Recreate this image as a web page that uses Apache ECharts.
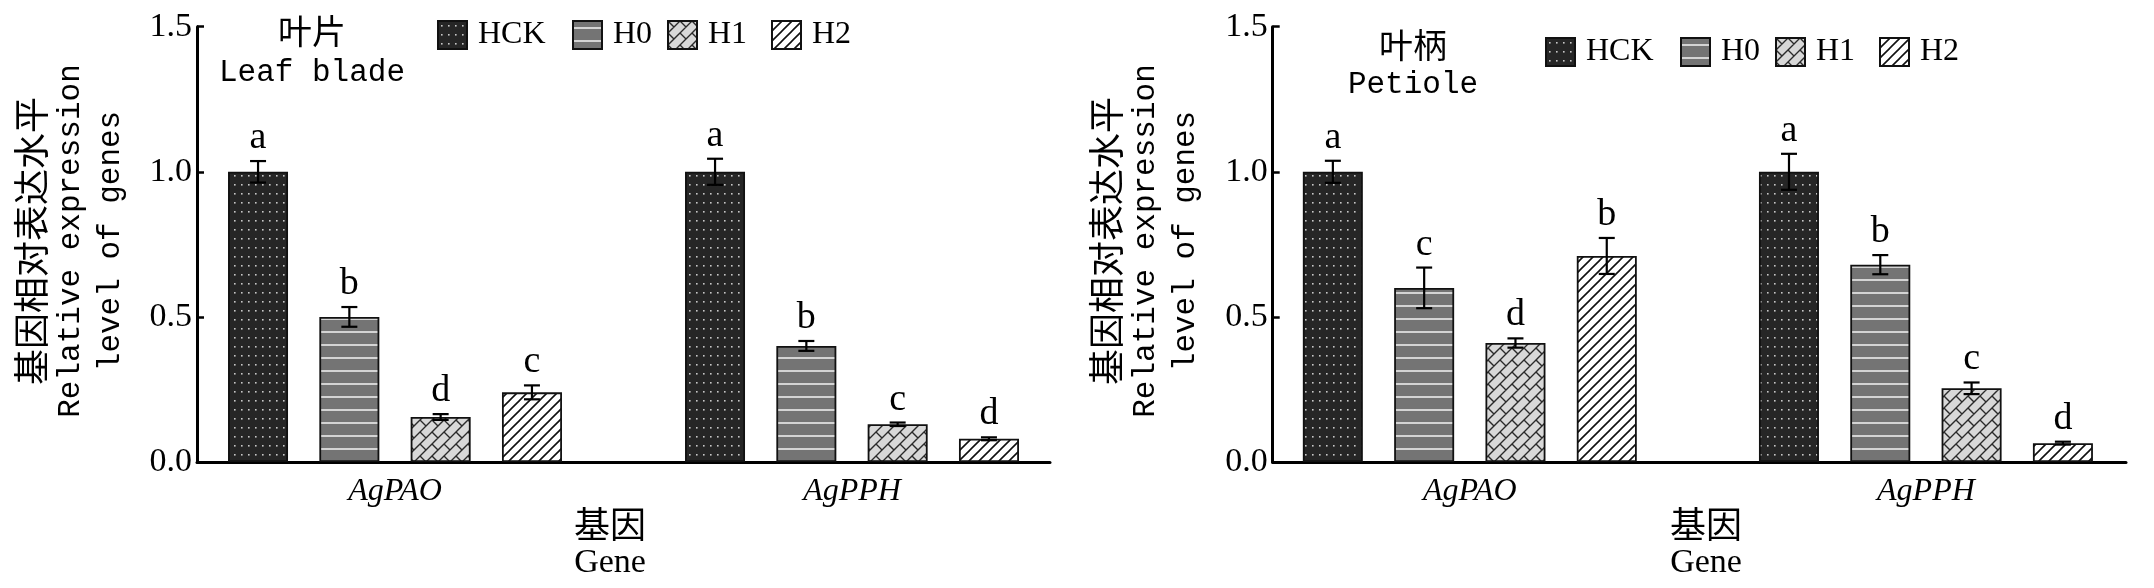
<!DOCTYPE html>
<html>
<head>
<meta charset="utf-8">
<script src="https://cdn.jsdelivr.net/npm/echarts@6/dist/echarts.min.js"></script>
<style>
html,body{margin:0;padding:0;background:#fff;}
#chart{width:2154px;height:588px;}
</style>
</head>
<body>
<div id="chart"></div>
<script>
// ---------------- data ----------------
const categories = ['AgPAO', 'AgPPH'];
const treatments = ['HCK', 'H0', 'H1', 'H2'];
const yTicks = [0, 0.5, 1.0, 1.5];

// Leaf blade (叶片)
const leafHCK = [1.00, 1.00];
const leafH0  = [0.50, 0.40];
const leafH1  = [0.155, 0.13];
const leafH2  = [0.24, 0.08];
const leafErrHCK = [0.037, 0.045];
const leafErrH0  = [0.034, 0.017];
const leafErrH1  = [0.010, 0.006];
const leafErrH2  = [0.024, 0.005];
const leafLetHCK = ['a', 'a'];
const leafLetH0  = ['b', 'b'];
const leafLetH1  = ['d', 'c'];
const leafLetH2  = ['c', 'd'];

// Petiole (叶柄)
const petHCK = [1.00, 1.00];
const petH0  = [0.60, 0.68];
const petH1  = [0.41, 0.254];
const petH2  = [0.71, 0.065];
const petErrHCK = [0.038, 0.062];
const petErrH0  = [0.070, 0.033];
const petErrH1  = [0.016, 0.020];
const petErrH2  = [0.062, 0.005];
const petLetHCK = ['a', 'a'];
const petLetH0  = ['c', 'b'];
const petLetH1  = ['d', 'c'];
const petLetH2  = ['b', 'd'];

// ---------------- styling ----------------
const MONO = '"Liberation Mono", monospace';
const SERIF = '"Liberation Serif", serif';
const CJK = '"Noto Sans CJK SC", sans-serif';
const BAR_W = 60, BAR_GAP = 31.3;

function makeTile(w, h, draw) {
  const c = document.createElement('canvas');
  c.width = w; c.height = h;
  const ctx = c.getContext('2d');
  draw(ctx, w, h);
  return c;
}
const patHCK = makeTile(7, 9, (ctx, w, h) => {
  ctx.fillStyle = '#262626'; ctx.fillRect(0, 0, w, h);
  ctx.fillStyle = '#c8c8c8'; ctx.fillRect(3, 4, 1.6, 1.6);
});
const patH0 = makeTile(4, 13, (ctx, w, h) => {
  ctx.fillStyle = '#747474'; ctx.fillRect(0, 0, w, h);
  ctx.fillStyle = '#d4d4d4'; ctx.fillRect(0, 6, w, 2);
});
const patH1 = makeTile(24, 24, (ctx, w, h) => {
  ctx.fillStyle = '#d8d8d8'; ctx.fillRect(0, 0, w, h);
  ctx.strokeStyle = '#2a2a2a'; ctx.lineWidth = 1.4;
  const P = 12, L = 24;
  ctx.beginPath();
  for (let s = -48; s <= 96; s += P) { ctx.moveTo(s + 48, -48); ctx.lineTo(s - 48, 48); }
  for (let m = -6; m <= 10; m++) {
    const shift = (Math.abs(m) % 2) * (L / 2);
    for (let u = -72 + shift; u <= 72; u += L) {
      const s0 = m * P, s1 = m * P + P;
      ctx.moveTo((u + s0) / 2, (s0 - u) / 2);
      ctx.lineTo((u + s1) / 2, (s1 - u) / 2);
    }
  }
  ctx.stroke();
});
const patH2 = makeTile(10, 10, (ctx, w, h) => {
  ctx.fillStyle = '#ffffff'; ctx.fillRect(0, 0, w, h);
  ctx.strokeStyle = '#111'; ctx.lineWidth = 1.6;
  ctx.beginPath();
  for (let s = -10; s <= 30; s += 10) { ctx.moveTo(s + 20, -20); ctx.lineTo(s - 20, 20); }
  ctx.stroke();
});
const patterns = [patHCK, patH0, patH1, patH2];

const panels = [
  { vals: [leafHCK, leafH0, leafH1, leafH2], errs: [leafErrHCK, leafErrH0, leafErrH1, leafErrH2],
    lets: [leafLetHCK, leafLetH0, leafLetH1, leafLetH2],
    axisLeft: 197, axisRight: 1050, barLeft: 166.5, barWidth: 914,
    legendX: [437, 572, 667, 771], legendTop: 19,
    t1: '叶片', t2: 'Leaf blade', tx: 312, ty1: 31, ty2: 73,
    ytx: 0, xtx: 610 },
  { vals: [petHCK, petH0, petH1, petH2], errs: [petErrHCK, petErrH0, petErrH1, petErrH2],
    lets: [petLetHCK, petLetH0, petLetH1, petLetH2],
    axisLeft: 1272.7, axisRight: 2126, barLeft: 1241.75, barWidth: 915,
    legendX: [1545, 1680, 1775, 1879], legendTop: 36,
    t1: '叶柄', t2: 'Petiole', tx: 1413, ty1: 45, ty2: 85,
    ytx: 1075, xtx: 1706 }
];

const TOP = 26.7, HEIGHT = 435.3;
const grid = [], xAxis = [], yAxis = [], series = [], legend = [], graphic = [];

panels.forEach((p, pi) => {
  const gAxis = grid.length;
  grid.push({ left: p.axisLeft, top: TOP, width: p.axisRight - p.axisLeft, height: HEIGHT });
  const gBar = grid.length;
  grid.push({ left: p.barLeft, top: TOP, width: p.barWidth, height: HEIGHT });

  xAxis.push({ gridIndex: gAxis, type: 'category', data: categories,
    axisLine: { lineStyle: { color: '#000', width: 3 } },
    axisTick: { show: false }, axisLabel: { show: false }, splitLine: { show: false } });
  const xb = xAxis.length;
  xAxis.push({ gridIndex: gBar, type: 'category', data: categories,
    axisLine: { show: false }, axisTick: { show: false },
    axisLabel: { margin: 14, color: '#000', fontFamily: SERIF, fontStyle: 'italic', fontSize: 32 } });
  yAxis.push({ gridIndex: gAxis, type: 'value', min: yTicks[0], max: yTicks[yTicks.length - 1], interval: 0.5,
    axisLine: { show: true, lineStyle: { color: '#000', width: 3 } },
    axisTick: { show: true, inside: true, length: 7, lineStyle: { color: '#000', width: 2.5 } },
    axisLabel: { margin: 5, color: '#000', fontFamily: SERIF, fontSize: 34, formatter: v => v.toFixed(1) },
    splitLine: { show: false } });
  const yb = yAxis.length;
  yAxis.push({ gridIndex: gBar, type: 'value', min: yTicks[0], max: yTicks[yTicks.length - 1], show: false });

  treatments.forEach((t, ti) => {
    series.push({ type: 'bar', name: t, xAxisIndex: xb, yAxisIndex: yb, data: p.vals[ti],
      barWidth: BAR_W, barGap: (BAR_GAP / BAR_W * 100).toFixed(1) + '%',
      itemStyle: { color: { image: patterns[ti], repeat: 'repeat' }, borderColor: '#111', borderWidth: 1.8 },
      emphasis: { disabled: true }, silent: true });
  });

  const ebData = [], ebLetters = [];
  treatments.forEach((t, ti) => {
    categories.forEach((c, ci) => {
      ebData.push([ci, p.vals[ti][ci], p.errs[ti][ci], ti]);
      ebLetters.push(p.lets[ti][ci]);
    });
  });
  series.push({ type: 'custom', xAxisIndex: xb, yAxisIndex: yb, z: 10, clip: false, silent: true,
    encode: { x: 0, y: 1 }, data: ebData,
    renderItem: (params, api) => {
      const ci = api.value(0), v = api.value(1), e = api.value(2), ti = api.value(3);
      const c0 = api.coord([ci, v]);
      const x = c0[0] + (ti - 1.5) * (BAR_W + BAR_GAP);
      const yt = api.coord([ci, v + e])[1];
      const yb2 = api.coord([ci, v - e])[1];
      const ls = { stroke: '#000', lineWidth: 2.2 };
      return { type: 'group', children: [
        { type: 'line', shape: { x1: x, y1: yt, x2: x, y2: yb2 }, style: ls },
        { type: 'line', shape: { x1: x - 8, y1: yt, x2: x + 8, y2: yt }, style: ls },
        { type: 'line', shape: { x1: x - 8, y1: yb2, x2: x + 8, y2: yb2 }, style: ls },
        { type: 'text', style: { text: ebLetters[params.dataIndex], x: x, y: yt - 4,
          textAlign: 'center', textVerticalAlign: 'bottom', align: 'center', verticalAlign: 'bottom',
          font: '38px ' + SERIF, fill: '#000' } }
      ] };
    } });

  treatments.forEach((t, ti) => {
    legend.push({ data: [t], left: p.legendX[ti], top: p.legendTop, padding: 0, itemGap: 0,
      itemWidth: 29, itemHeight: 28, icon: 'rect', selectedMode: false,
      textStyle: { fontFamily: SERIF, fontSize: 32, color: '#000', padding: [0, 0, 0, 6] } });
  });

  // panel titles
  graphic.push({ type: 'text', x: p.tx, y: p.ty1, style: { text: p.t1, font: '34px ' + CJK, fill: '#000',
    textAlign: 'center', textVerticalAlign: 'middle', align: 'center', verticalAlign: 'middle' } });
  graphic.push({ type: 'text', x: p.tx, y: p.ty2, style: { text: p.t2, font: '31px ' + MONO, fill: '#000',
    textAlign: 'center', textVerticalAlign: 'middle', align: 'center', verticalAlign: 'middle' } });
  // y axis title (three rotated lines)
  [['基因相对表达水平', 31.5, '36px ' + CJK], ['Relative expression', 71, '31px ' + MONO], ['level of genes', 111, '31px ' + MONO]]
    .forEach(([txt, xx, font]) => {
      graphic.push({ type: 'text', x: xx + p.ytx, y: 241, rotation: Math.PI / 2,
        style: { text: txt, font: font, fill: '#000', textAlign: 'center', textVerticalAlign: 'middle', align: 'center', verticalAlign: 'middle' } });
    });
  // x axis title
  graphic.push({ type: 'text', x: p.xtx, y: 524, style: { text: '基因', font: '36px ' + CJK, fill: '#000',
    textAlign: 'center', textVerticalAlign: 'middle', align: 'center', verticalAlign: 'middle' } });
  graphic.push({ type: 'text', x: p.xtx, y: 563, style: { text: 'Gene', font: '34px ' + SERIF, fill: '#000',
    textAlign: 'center', textVerticalAlign: 'middle', align: 'center', verticalAlign: 'middle' } });
});

const chart = echarts.init(document.getElementById('chart'), null, { renderer: 'canvas' });
chart.setOption({ animation: false, backgroundColor: '#fff', grid, xAxis, yAxis, series, legend, graphic });
</script>
</body>
</html>
